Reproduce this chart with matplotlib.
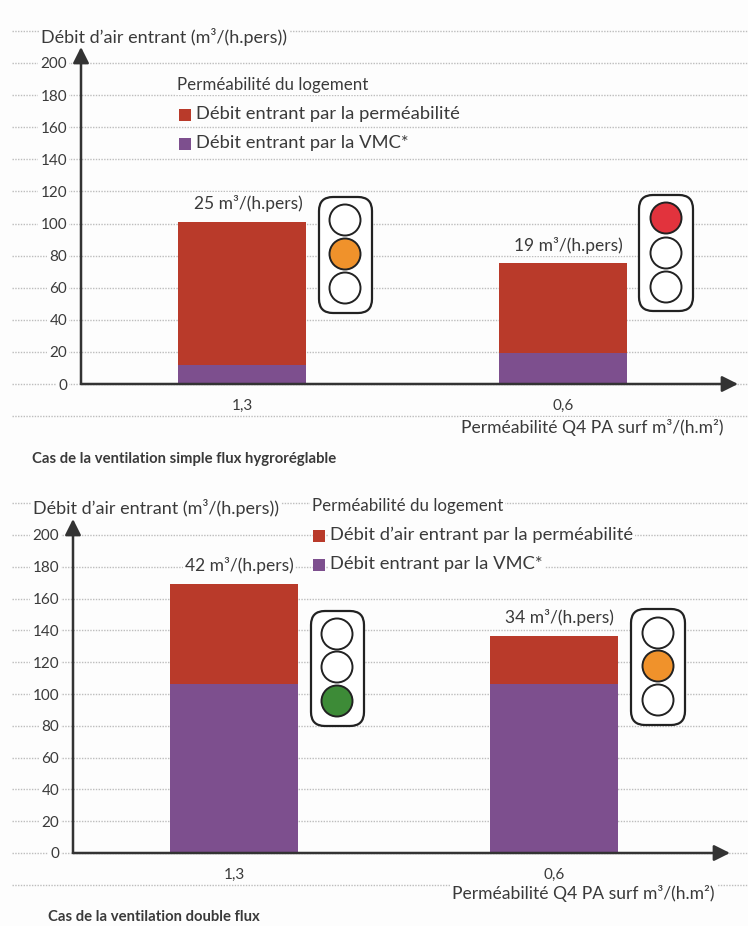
#!/usr/bin/env python3
"""
Débit d'air entrant selon la perméabilité du logement
Simple flux hygroréglable / double flux
"""
import matplotlib
matplotlib.use('Agg')
import matplotlib.pyplot as plt
from matplotlib.patches import Ellipse, FancyBboxPatch, Rectangle
from matplotlib.transforms import Affine2D, blended_transform_factory

plt.rcParams['font.family'] = ['Lato', 'DejaVu Sans']

W, H = 748, 926
TXT = '#3a3a3a'
RED = '#b93a2a'
PURPLE = '#7d4f8e'
GRID = '#bdbdbd'
ORANGE = '#f0922b'
SIGNAL_RED = '#e2333d'
GREEN = '#3d8b37'

# ── Data ──
categories = ['1,3', '0,6']
y_ticks = [0, 20, 40, 60, 80, 100, 120, 140, 160, 180, 200]

simple_vmc = [12, 19.5]
simple_perm = [89, 56]
simple_labels = ['25 m³/(h.pers)', '19 m³/(h.pers)']

double_vmc = [106, 106]
double_perm = [63, 30.5]
double_labels = ['42 m³/(h.pers)', '34 m³/(h.pers)']

fig = plt.figure(figsize=(W / 100, H / 100), dpi=100, facecolor='#fdfdfd')
# pixel coordinates of the page, origin top left
px = Affine2D().scale(1 / W, -1 / H).translate(0, 1) + fig.transFigure


def label(x, y, s, size=12.5, ha='left', weight='normal', bg=True):
    bbox = dict(fc='#fdfdfd', ec='none', pad=1.5) if bg else None
    fig.text(x, y, s, transform=px, fontsize=size, ha=ha, va='center',
             color=TXT, fontweight=weight, bbox=bbox, zorder=6)


def traffic_light(x0, y0, x1, y1, cx, cys, lit, color):
    fig.add_artist(FancyBboxPatch((x0 + 12, y0 + 12), x1 - x0 - 24, y1 - y0 - 24,
                                  boxstyle='round,pad=12,rounding_size=14',
                                  transform=px, fc='white', ec='#222222', lw=1.6, zorder=4))
    for i, cy in enumerate(cys):
        fig.add_artist(Ellipse((cx, cy), 31, 31, transform=px, ec='#222222', lw=1.4, zorder=5,
                               fc=color if i == lit else 'white'))


def panel(left, right, y0, y200, c0, step, vmc, perm, bar_labels, label_pos):
    ax = fig.add_axes([left / W, 1 - y0 / H, (right - left) / W, (y0 - y200) / H])
    ax.patch.set_alpha(0)
    ax.set_xlim((left - c0) / step, (right - c0) / step)
    ax.set_ylim(0, 200)
    pos = list(range(len(categories)))
    ax.bar(pos, vmc, width=0.4, color=PURPLE, zorder=3)
    ax.bar(pos, perm, bottom=vmc, width=0.4, color=RED, zorder=3)

    # dotted rules run over the whole page width, two of them outside the scale
    trans = blended_transform_factory(px, ax.transData)
    ax.hlines([-20] + y_ticks + [220], 12, W, transform=trans, colors=GRID,
              linestyles=(0, (1, 1)), lw=1, clip_on=False, zorder=1)

    ax.set_xticks(pos, categories)
    ax.set_yticks(y_ticks)
    ax.tick_params(axis='both', length=0, labelsize=11, labelcolor=TXT)
    ax.tick_params(axis='x', pad=11)
    ax.tick_params(axis='y', pad=10)
    for t in ax.get_xticklabels() + ax.get_yticklabels():
        t.set_bbox(dict(fc='#fdfdfd', ec='none', pad=1.5))
    for s in ax.spines.values():
        s.set_visible(False)

    arrow = dict(arrowstyle='-|>', color='#333333', lw=1.8, mutation_scale=24,
                 shrinkA=0, shrinkB=0)
    ax.annotate('', xy=(left, y200 - 16), xytext=(left, y0), xycoords=px, textcoords=px,
                arrowprops=arrow, zorder=5)
    ax.annotate('', xy=(right, y0), xytext=(left, y0), xycoords=px, textcoords=px,
                arrowprops=arrow, zorder=5)

    for s, (x, y) in zip(bar_labels, label_pos):
        label(x, y, s, ha='center')


# ── A) Simple flux hygroréglable ──
panel(81, 738, 384, 63, 242, 321, simple_vmc, simple_perm, simple_labels, [(248, 203), (568, 245)])
label(41, 37, 'Débit d’air entrant (m³/(h.pers))', size=13)
label(177, 85, 'Perméabilité du logement', size=12.2)
label(196, 114, 'Débit entrant par la perméabilité', size=13.2)
label(196, 143, 'Débit entrant par la VMC*', size=13.2)
fig.add_artist(Rectangle((179, 109), 12, 12, transform=px, fc=RED, ec='none', zorder=7))
fig.add_artist(Rectangle((179, 138), 12, 12, transform=px, fc=PURPLE, ec='none', zorder=7))
traffic_light(319, 197, 372, 313, 345, [220, 254, 288], 1, ORANGE)
traffic_light(639, 195, 693, 311, 666, [218, 253, 287], 0, SIGNAL_RED)
label(724, 428, 'Perméabilité Q4 PA surf m³/(h.m²)', size=12.6, ha='right')
label(32, 459, 'Cas de la ventilation simple flux hygroréglable', size=10.7, weight='bold', bg=False)

# ── B) Double flux ──
panel(73, 730, 853, 535, 234, 320, double_vmc, double_perm, double_labels, [(239, 566), (559, 618)])
label(33, 508, 'Débit d’air entrant (m³/(h.pers))', size=13)
label(312, 506, 'Perméabilité du logement', size=12.2)
label(330, 535, 'Débit d’air entrant par la perméabilité', size=13.2)
label(330, 564, 'Débit entrant par la VMC*', size=13.2)
fig.add_artist(Rectangle((313, 530), 12, 12, transform=px, fc=RED, ec='none', zorder=7))
fig.add_artist(Rectangle((313, 559), 12, 12, transform=px, fc=PURPLE, ec='none', zorder=7))
traffic_light(311, 611, 364, 726, 337, [634, 667, 701], 2, GREEN)
traffic_light(631, 609, 685, 725, 658, [633, 666, 700], 1, ORANGE)
label(715, 893, 'Perméabilité Q4 PA surf m³/(h.m²)', size=12.6, ha='right')
label(48, 917, 'Cas de la ventilation double flux', size=10.7, weight='bold', bg=False)

plt.savefig('out.png', dpi=100, facecolor=fig.get_facecolor())
print('Done -> out.png')
